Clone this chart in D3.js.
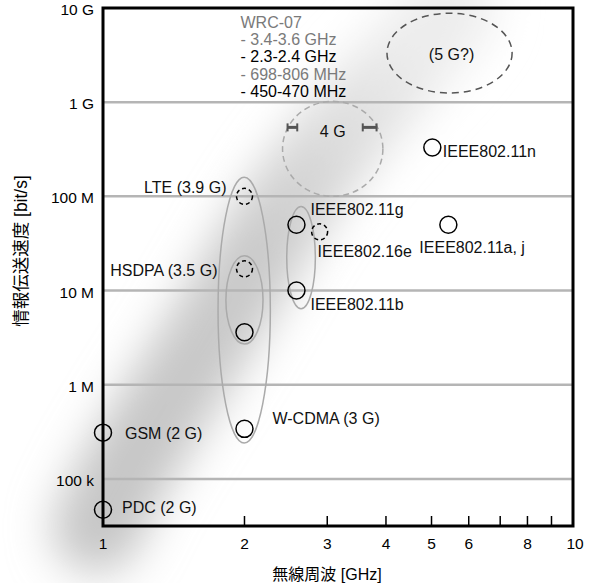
<!DOCTYPE html>
<html>
<head>
<meta charset="utf-8">
<script src="https://cdn.jsdelivr.net/npm/d3@7"></script>
<style>
body { margin: 0; background: #fff; }
text { font-family: "Liberation Sans", Arial, "Noto Sans CJK JP", sans-serif; }
</style>
</head>
<body>
<svg id="chart" width="592" height="583"></svg>
<script>
// Axis ticks
const xTicks = [1, 2, 3, 4, 5, 6, 7, 8, 9, 10];
const xTickLabels = ['1', '2', '3', '4', '5', '6', '', '8', '', '10'];
const yTicks = [1e5, 1e6, 1e7, 1e8, 1e9, 1e10];
const yTickLabels = ['100 k', '1 M', '10 M', '100 M', '1 G', '10 G'];

// Systems: frequency [GHz], rate [bit/s], planned (dashed)
const sysNames = ['PDC (2 G)', 'GSM (2 G)', 'W-CDMA (3 G)', '', 'HSDPA (3.5 G)', 'LTE (3.9 G)',
    'IEEE802.11b', 'IEEE802.11g', 'IEEE802.16e', 'IEEE802.11a, j', 'IEEE802.11n'];
const sysFreqs = [1, 1, 2, 2, 2, 2, 2.58, 2.58, 2.89, 5.43, 5.02];
const sysRates = [4.7e4, 3.1e5, 3.4e5, 3.6e6, 1.7e7, 1.0e8, 1.0e7, 5.0e7, 4.2e7, 5.0e7, 3.3e8];
const sysPlanned = [false, false, false, false, true, true, false, false, true, false, false];

// Groupings (ellipses): frequency and rate extents
const groupFreqLo = [1.757, 1.826, 2.46, 2.41, 4.02];
const groupFreqHi = [2.27, 2.19, 2.83, 3.94, 7.42];
const groupRateLo = [2.4e5, 2.7e6, 6.4e6, 1.0e8, 1.25e9];
const groupRateHi = [1.6e8, 2.34e7, 7.8e7, 1.02e9, 8.8e9];
const groupKinds = ['solid', 'solid', 'solid', 'light', 'dark'];
const groupNames = ['', '', '', '4 G', '(5 G?)'];

// WRC-07 bands shown inside 4 G
const wrcLines = ['WRC-07', '- 3.4-3.6 GHz', '- 2.3-2.4 GHz', '- 698-806 MHz', '- 450-470 MHz'];
const wrcDark = [false, false, true, false, true];
const rangeLo = [2.47, 3.57];
const rangeHi = [2.59, 3.82];
const rangeRate = 5.4e8;

// Trend band centre line
const bandFreqs = [0.97, 1.12, 1.73, 2.32, 3.19, 4.73, 5.5];
const bandRates = [3e4, 1.4e5, 3.8e6, 5.6e7, 4.9e8, 3.7e9, 1e10];

const svg = d3.select('#chart');
const x = d3.scaleLog().domain([1, 10]).range([103, 573]);
const y = d3.scaleLog().domain([Math.pow(10, 4.5), 1e10]).range([526, 8]);
const [x0, x1] = x.range();
const [y0, y1] = y.range();

const defs = svg.append('defs');
defs.append('filter')
    .attr('id', 'soft')
    .attr('x', '-40%').attr('y', '-40%')
    .attr('width', '180%').attr('height', '180%')
    .append('feGaussianBlur')
    .attr('stdDeviation', 22);

const grad = defs.append('linearGradient')
    .attr('id', 'bandGrad')
    .attr('gradientUnits', 'userSpaceOnUse')
    .attr('x1', x(bandFreqs[1])).attr('y1', y(bandRates[1]))
    .attr('x2', x(bandFreqs[5])).attr('y2', y(bandRates[5]));
grad.append('stop').attr('offset', 0).attr('stop-color', '#c6c6c6');
grad.append('stop').attr('offset', 0.5).attr('stop-color', '#cacaca');
grad.append('stop').attr('offset', 1).attr('stop-color', '#ededed');

// Gray trend band
svg.append('path')
    .datum(d3.zip(bandFreqs, bandRates))
    .attr('d', d3.line().x(d => x(d[0])).y(d => y(d[1])).curve(d3.curveBasis))
    .attr('fill', 'none')
    .attr('stroke', 'url(#bandGrad)')
    .attr('stroke-width', 90)
    .attr('stroke-linecap', 'round')
    .attr('filter', 'url(#soft)');

// Horizontal grid lines
svg.append('g')
    .selectAll('line')
    .data(yTicks.slice(0, -1))
    .enter().append('line')
    .attr('x1', x0).attr('x2', x1)
    .attr('y1', d => y(d)).attr('y2', d => y(d))
    .attr('stroke', '#b5b5b5')
    .attr('stroke-width', 2.5);

// Grouping ellipses
const grp = svg.append('g')
    .selectAll('g')
    .data(groupKinds.map((k, i) => i))
    .enter().append('g');

grp.append('ellipse')
    .attr('cx', i => (x(groupFreqLo[i]) + x(groupFreqHi[i])) / 2)
    .attr('cy', i => (y(groupRateLo[i]) + y(groupRateHi[i])) / 2)
    .attr('rx', i => (x(groupFreqHi[i]) - x(groupFreqLo[i])) / 2)
    .attr('ry', i => (y(groupRateLo[i]) - y(groupRateHi[i])) / 2)
    .attr('fill', 'none')
    .attr('stroke', i => (groupKinds[i] == 'dark' ? '#555' : '#aaa'))
    .attr('stroke-width', 1.5)
    .attr('stroke-dasharray', i => (groupKinds[i] == 'solid' ? null : (groupKinds[i] == 'dark' ? '7,5' : '6,4')));

grp.filter(i => groupNames[i] != '')
    .append('text')
    .attr('x', i => (x(groupFreqLo[i]) + x(groupFreqHi[i])) / 2 + (groupKinds[i] == 'dark' ? 2 : 0))
    .attr('y', i => (groupKinds[i] == 'dark'
        ? (y(groupRateLo[i]) + y(groupRateHi[i])) / 2 + 7
        : y(rangeRate) + 10))
    .attr('text-anchor', 'middle')
    .style('font-size', '16px')
    .attr('fill', '#111')
    .text(i => groupNames[i]);

// Frequency range markers inside 4 G
const rng = svg.append('g')
    .selectAll('g')
    .data(rangeLo.map((d, i) => i))
    .enter().append('g')
    .attr('stroke', '#555')
    .attr('stroke-width', 2);
rng.append('line')
    .attr('x1', i => x(rangeLo[i])).attr('x2', i => x(rangeHi[i]))
    .attr('y1', y(rangeRate)).attr('y2', y(rangeRate))
    .attr('stroke-width', 3);
rng.append('line')
    .attr('x1', i => x(rangeLo[i])).attr('x2', i => x(rangeLo[i]))
    .attr('y1', y(rangeRate) - 4).attr('y2', y(rangeRate) + 4);
rng.append('line')
    .attr('x1', i => x(rangeHi[i])).attr('x2', i => x(rangeHi[i]))
    .attr('y1', y(rangeRate) - 4).attr('y2', y(rangeRate) + 4);

// Frame and bottom ticks
svg.append('rect')
    .attr('x', x0).attr('y', y1)
    .attr('width', x1 - x0).attr('height', y0 - y1)
    .attr('fill', 'none')
    .attr('stroke', '#000')
    .attr('stroke-width', 3);

svg.append('g')
    .selectAll('line')
    .data(xTicks.slice(1, -1))
    .enter().append('line')
    .attr('x1', d => x(d)).attr('x2', d => x(d))
    .attr('y1', y0).attr('y2', y0 - 10)
    .attr('stroke', '#000')
    .attr('stroke-width', 1.5);

// Tick labels
svg.append('g')
    .selectAll('text')
    .data(xTicks)
    .enter().append('text')
    .attr('x', d => x(d) + (d == 10 ? 2 : 0))
    .attr('y', y0 + 23)
    .attr('text-anchor', 'middle')
    .style('font-size', '15.5px')
    .text((d, i) => xTickLabels[i]);

svg.append('g')
    .selectAll('text')
    .data(yTicks)
    .enter().append('text')
    .attr('x', x0 - 9)
    .attr('y', d => y(d) + 7)
    .attr('text-anchor', 'end')
    .style('font-size', '15.5px')
    .text((d, i) => yTickLabels[i]);

// Axis titles
svg.append('text')
    .attr('x', (x0 + x1) / 2 - 11)
    .attr('y', 580)
    .attr('text-anchor', 'middle')
    .style('font-size', '16px')
    .text('無線周波 [GHz]');

svg.append('text')
    .attr('transform', 'translate(27,251) rotate(-90)')
    .attr('text-anchor', 'middle')
    .style('font-size', '17.5px')
    .text('情報伝送速度 [bit/s]');

// System markers
const labelDx = [19, 22, 28, 0, -27, -18, 14, 14, -2, -29, 10.5];
const labelDy = [3.5, 6, -5, 0, 7, -3, 19.5, -10, 25.5, 28.5, 9.5];
const labelAnchor = ['start', 'start', 'start', 'start', 'end', 'end', 'start', 'start', 'start', 'start', 'start'];

const sys = svg.append('g')
    .selectAll('g')
    .data(sysNames.map((d, i) => i))
    .enter().append('g')
    .attr('transform', i => 'translate(' + x(sysFreqs[i]) + ',' + y(sysRates[i]) + ')');

sys.append('circle')
    .attr('r', i => (sysPlanned[i] ? 8 : 8.5))
    .attr('fill', 'none')
    .attr('stroke', '#000')
    .attr('stroke-width', 1.5)
    .attr('stroke-dasharray', i => (sysPlanned[i] ? '4,3' : null));

sys.append('text')
    .attr('x', i => labelDx[i])
    .attr('y', i => labelDy[i])
    .attr('text-anchor', i => labelAnchor[i])
    .style('font-size', '16px')
    .attr('fill', '#111')
    .text(i => sysNames[i]);

// WRC-07 legend
svg.append('g')
    .selectAll('text')
    .data(wrcLines)
    .enter().append('text')
    .attr('x', x(2) - 4)
    .attr('y', (d, i) => 27.5 + i * 17.4)
    .style('font-size', '16px')
    .attr('fill', (d, i) => (wrcDark[i] ? '#000' : '#7a7a7a'))
    .text(d => d);
</script>
</body>
</html>
